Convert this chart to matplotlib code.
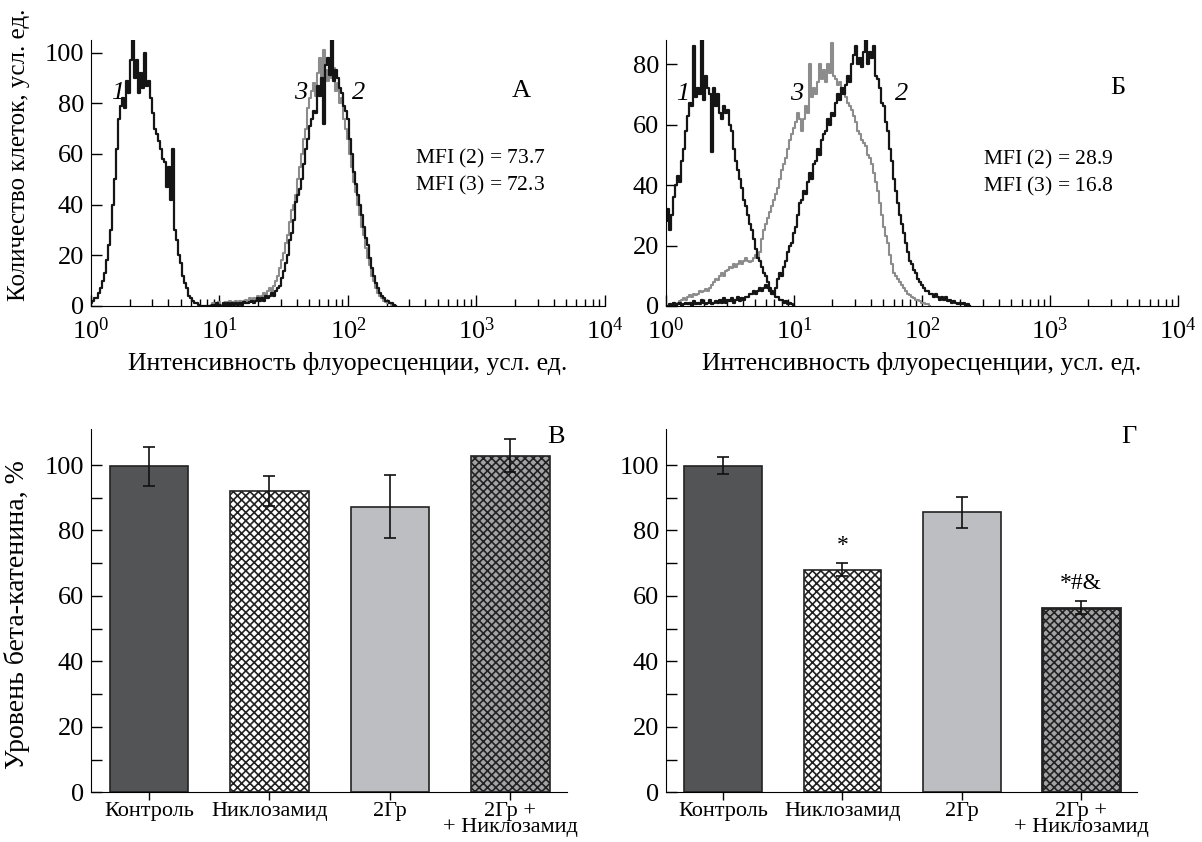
import numpy as np
import matplotlib
matplotlib.use("Agg")
import matplotlib.pyplot as plt

plt.rcParams['font.family'] = ['Liberation Serif', 'DejaVu Serif']
plt.rcParams['mathtext.fontset'] = 'custom'
plt.rcParams['mathtext.rm'] = 'Liberation Serif'
plt.rcParams['mathtext.it'] = 'Liberation Serif:italic'
plt.rcParams['hatch.linewidth'] = 1.2

# channels per decade of the log amplifier
CH_PER_DECADE = 64

# Panel A histograms (start channel, counts)
a1_start = 0
a1_counts = [1, 2, 3, 3, 5, 7, 10, 13, 18, 24, 30, 40, 50, 62, 74, 79, 82, 78, 89, 84,
             97, 106, 90, 97, 84, 92, 86, 100, 87, 89, 82, 76, 70, 68, 65, 62, 58, 57, 47, 55,
             42, 62, 30, 26, 20, 17, 12, 9, 7, 4, 3, 2, 1, 1, 0.5, 0, 0, 0, 0, 0]
a2_start = 60
a2_counts = [0, 0.5, 0, 1, 0.5, 0, 1, 0.5, 1, 0, 1, 0.5, 1, 0.5, 1, 0.5, 1.5, 1, 1, 1.5,
             2, 1, 2, 3, 2, 3, 2, 4, 3, 4, 5, 4, 6, 7, 8, 11, 14, 17, 20, 26,
             29, 34, 41, 44, 46, 50, 56, 62, 66, 71, 74, 77, 76, 87, 83, 90, 72, 95, 98, 91,
             106, 89, 93, 90, 86, 84, 79, 77, 74, 66, 60, 53, 48, 44, 40, 36, 31, 27, 24, 19,
             15, 12, 9, 7, 5, 4, 3, 2, 2, 1, 1, 0.5, 0]
a3_start = 60
a3_counts = [0.5, 1, 0.5, 1, 1.5, 0.5, 1, 1.5, 1, 2, 1, 1.5, 2, 1, 2, 1.5, 2, 2.5, 1.5, 3,
             2, 3, 2.5, 4, 3, 4, 5, 4, 6, 7, 6, 8, 10, 12, 15, 18, 21, 25, 28, 33,
             38, 40, 44, 50, 55, 60, 66, 70, 78, 82, 85, 88, 83, 92, 98, 86, 101, 93, 89, 96,
             90, 94, 85, 88, 80, 82, 74, 70, 66, 60, 55, 49, 45, 40, 36, 31, 28, 23, 19, 16,
             12, 10, 7, 5, 4, 3, 2, 1.5, 1, 1, 0.5, 0.5, 0]

# Panel B histograms
b1_start = 0
b1_counts = [28, 32, 25, 30, 36, 40, 43, 41, 48, 52, 58, 63, 67, 66, 86, 69, 72, 70, 88, 68,
             76, 72, 70, 51, 72, 66, 70, 64, 62, 66, 64, 65, 60, 58, 52, 48, 45, 42, 39, 35,
             33, 30, 27, 25, 22, 19, 16, 15, 13, 11, 10, 8, 6, 5, 4, 3, 3, 2, 2, 1,
             1.5, 0.5, 1, 0.5, 0]
b2_start = 0
b2_counts = [0, 0, 0.5, 0, 1, 0, 0.5, 1, 0, 0.5, 1, 0.5, 1, 0, 1.5, 0.5, 1, 0.5, 2, 1,
             0.5, 1, 2, 0.5, 1, 1.5, 1, 2, 1, 2.5, 1, 2, 1.5, 2.5, 1, 2, 3, 1.5, 2.5, 2,
             3, 3, 4, 4, 5, 4, 5, 6, 5, 6, 7, 6, 5, 4, 4, 6, 9, 11, 10, 13,
             15, 18, 20, 21, 24, 26, 30, 34, 35, 38, 37, 41, 44, 42, 47, 48, 52, 50, 55, 57,
             58, 62, 60, 64, 63, 67, 70, 68, 72, 70, 73, 76, 74, 80, 83, 86, 80, 82, 79, 84,
             88, 80, 84, 82, 86, 76, 75, 72, 67, 66, 61, 58, 52, 48, 42, 38, 34, 30, 27, 24,
             21, 18, 15, 14, 12, 11, 9, 8, 7, 6, 5, 5, 4, 4, 3, 4, 3, 2, 3, 2,
             3, 1.5, 2, 1, 1.5, 1, 0.5, 1, 0.5, 1, 0, 0.5, 0]
b3_start = 0
b3_counts = [0, 0, 0, 0.5, 1, 0.5, 1, 1.5, 2, 2.5, 2, 3, 3.5, 3, 4, 3.5, 4, 5, 4.5, 5,
             5.5, 5, 6, 7, 8, 9, 8.5, 10, 11, 10, 11.5, 12, 13, 12.5, 14, 13, 14, 15, 14, 15,
             16, 15, 14.5, 15, 16, 17, 16, 18, 22, 25, 27, 29, 31, 33, 35, 37, 39, 42, 45, 47,
             49, 52, 55, 57, 59, 61, 64, 62, 58, 62, 66, 64, 80, 69, 72, 70, 74, 80, 75, 78,
             74, 80, 77, 87, 76, 75, 73, 74, 70, 71, 69, 67, 66, 65, 63, 61, 58, 57, 55, 54,
             53, 50, 49, 47, 44, 41, 38, 34, 30, 26, 23, 21, 17, 14, 11, 10, 9, 8, 7, 6,
             5, 4, 3.5, 3, 2.5, 2, 2, 1.5, 1, 1, 0.5, 0.5, 0]

mfi_a = ["73.7", "72.3"]
mfi_b = ["28.9", "16.8"]

# Bar charts
groups = ['Контроль', 'Никлозамид', '2Гр', '2Гр +\n+ Никлозамид']
v_means = [99.6, 92.0, 87.2, 102.8]
v_errs = [6.0, 4.6, 9.6, 5.0]
g_means = [99.8, 68.0, 85.6, 56.4]
g_errs = [2.6, 2.0, 4.7, 2.0]
g_marks = ['', '*', '', '*#&']

bar_colors = ['#535456', 'white', '#bdbec1', '#a3a3a5']
bar_hatches = [None, 'xxxx', None, 'xxxx']

BLACK = '#151515'
GRAY = '#8c8c8c'


def channels(start, counts):
    return 10 ** ((start + np.arange(len(counts))) / CH_PER_DECADE)


def style_hist(ax, ymax, yticks):
    ax.set_xscale('log')
    ax.set_xlim(1, 1e4)
    ax.set_ylim(0, ymax)
    ax.set_yticks(yticks)
    ax.spines['top'].set_visible(False)
    ax.spines['right'].set_visible(False)
    ax.tick_params(axis='both', which='major', direction='in', length=8, width=1, labelsize=19)
    ax.tick_params(axis='y', pad=5)
    ax.tick_params(axis='x', pad=8)
    ax.tick_params(axis='x', which='minor', direction='in', length=5, width=1)
    ax.set_xlabel('Интенсивность флуоресценции, усл. ед.', fontsize=18.5, labelpad=6)


def style_bar(ax):
    ax.set_xlim(-0.48, 3.47)
    ax.set_ylim(0, 111)
    ax.set_yticks(range(0, 101, 20))
    ax.set_yticks(range(10, 100, 20), minor=True)
    ax.set_xticks(range(len(groups)))
    ax.set_xticklabels(groups, fontsize=16, linespacing=0.8)
    ax.spines['top'].set_visible(False)
    ax.spines['right'].set_visible(False)
    ax.tick_params(axis='y', which='both', direction='in', length=8, width=1, labelsize=19, pad=5)
    ax.tick_params(axis='x', direction='out', length=6, width=1, pad=1)


fig = plt.figure(figsize=(12.02, 8.42), dpi=100)
ax_a = fig.add_axes([0.0757, 0.6366, 0.4276, 0.3159])
ax_b = fig.add_axes([0.554, 0.6366, 0.4260, 0.3159])
ax_v = fig.add_axes([0.0757, 0.059, 0.396, 0.4315])
ax_g = fig.add_axes([0.554, 0.059, 0.392, 0.4315])

# --- A ---
ax_a.plot(channels(a3_start, a3_counts), a3_counts, drawstyle='steps-mid', color=GRAY, lw=1.5)
ax_a.plot(channels(a2_start, a2_counts), a2_counts, drawstyle='steps-mid', color=BLACK, lw=1.6)
ax_a.plot(channels(a1_start, a1_counts), a1_counts, drawstyle='steps-mid', color=BLACK, lw=1.6)
style_hist(ax_a, 105, range(0, 101, 20))
ax_a.set_ylabel('Количество клеток, усл. ед.', fontsize=18)
ax_a.yaxis.set_label_coords(-0.119, 0.57)
ax_a.text(1.6, 84, '1', fontsize=19, style='italic', ha='center', va='center')
ax_a.text(43, 84, '3', fontsize=19, style='italic', ha='center', va='center')
ax_a.text(120, 84, '2', fontsize=19, style='italic', ha='center', va='center')
ax_a.text(2240, 85, 'А', fontsize=19, ha='center', va='center')
ax_a.text(330, 58.3, r'MFI ($\mathit{2}$) = ' + mfi_a[0], fontsize=15.5, va='center')
ax_a.text(330, 47.6, r'MFI ($\mathit{3}$) = ' + mfi_a[1], fontsize=15.5, va='center')

# --- Б ---
ax_b.plot(channels(b3_start, b3_counts), b3_counts, drawstyle='steps-mid', color=GRAY, lw=1.5)
ax_b.plot(channels(b2_start, b2_counts), b2_counts, drawstyle='steps-mid', color=BLACK, lw=1.6)
ax_b.plot(channels(b1_start, b1_counts), b1_counts, drawstyle='steps-mid', color=BLACK, lw=1.6)
style_hist(ax_b, 88, range(0, 81, 20))
ax_b.text(1.36, 70, '1', fontsize=19, style='italic', ha='center', va='center')
ax_b.text(10.5, 70, '3', fontsize=19, style='italic', ha='center', va='center')
ax_b.text(70, 70, '2', fontsize=19, style='italic', ha='center', va='center')
ax_b.text(3400, 72, 'Б', fontsize=19, ha='center', va='center')
ax_b.text(300, 48.5, r'MFI ($\mathit{2}$) = ' + mfi_b[0], fontsize=15.5, va='center')
ax_b.text(300, 39.5, r'MFI ($\mathit{3}$) = ' + mfi_b[1], fontsize=15.5, va='center')

# --- В ---
x = np.arange(len(groups))
for i in range(len(groups)):
    ax_v.bar(x[i], v_means[i], width=0.65, color=bar_colors[i], edgecolor='#222222',
             hatch=bar_hatches[i], linewidth=1.2)
ax_v.errorbar(x, v_means, yerr=v_errs, fmt='none', ecolor='#111111', elinewidth=1.2, capsize=4, capthick=1.2)
style_bar(ax_v)
ax_v.set_ylabel('Уровень бета-катенина, %', fontsize=20)
ax_v.yaxis.set_label_coords(-0.128, 0.49)
ax_v.text(3.38, 108.5, 'В', fontsize=19, ha='center', va='center')

# --- Г ---
for i in range(len(groups)):
    ax_g.bar(x[i], g_means[i], width=0.65, color=bar_colors[i], edgecolor='#222222',
             hatch=bar_hatches[i], linewidth=1.2 if i < 3 else 2.0)
ax_g.errorbar(x, g_means, yerr=g_errs, fmt='none', ecolor='#111111', elinewidth=1.2, capsize=4, capthick=1.2)
for i in range(len(groups)):
    if g_marks[i]:
        ax_g.text(x[i], g_means[i] + g_errs[i] + 5.4, g_marks[i], fontsize=17, ha='center', va='center')
style_bar(ax_g)
ax_g.text(3.4, 108.5, 'Г', fontsize=19, ha='center', va='center')

fig.savefig('out.png', dpi=100)
